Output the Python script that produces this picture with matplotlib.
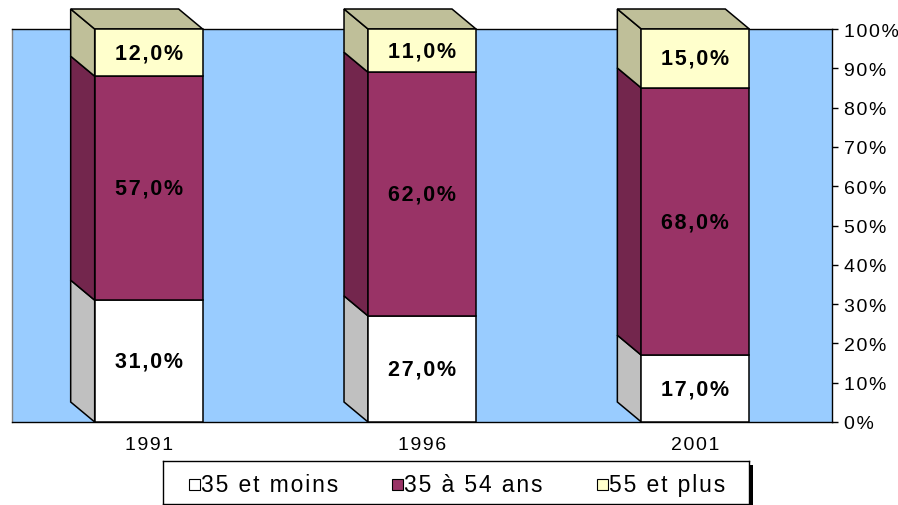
import matplotlib
matplotlib.use('Agg')
import matplotlib.pyplot as plt
from matplotlib.patches import Polygon, Rectangle

plt.rcParams['font.family'] = ['Liberation Sans', 'DejaVu Sans']

years = ['1991', '1996', '2001']
moins_35 = [31, 27, 17]
de_35_a_54 = [57, 62, 68]
plus_55 = [12, 11, 15]
series_names = ['35 et moins', '35 à 54 ans', '55 et plus']
y_ticks = [0, 10, 20, 30, 40, 50, 60, 70, 80, 90, 100]

front_colors = ['white', '#993366', '#FFFFCC']
side_colors = ['#C0C0C0', '#73264D', '#BFBF99']


def spaced(s, sep='\u200a'):
    # excel draws these labels with a bit of extra letter spacing
    return sep.join(s)


W, H = 898, 506
fig = plt.figure(figsize=(W / 100, H / 100), dpi=100)
ax_left, ax_bottom, ax_w, ax_h = 12, 83, 820, 393
ax = fig.add_axes([ax_left / W, ax_bottom / H, ax_w / W, ax_h / H])
ax.set_facecolor('#99CCFF')
ax.set_xlim(0, len(years))
ax.set_ylim(0, 100)

# depth of the 3d effect, in pixels, turned into data units
depth_x = -24 * len(years) / ax_w
depth_y = 20 * 100 / ax_h
bar_w = 0.395

series = [moins_35, de_35_a_54, plus_55]
centers = [i + 0.5 for i in range(len(years))]

bottoms = [0] * len(years)
for values, fc, sc in zip(series, front_colors, side_colors):
    ax.bar(centers, values, bottom=bottoms, width=bar_w, color=fc,
           edgecolor='black', linewidth=1.1, zorder=4, clip_on=False)
    for c, b, v in zip(centers, bottoms, values):
        x0 = c - bar_w / 2
        side = Polygon([(x0, b), (x0, b + v), (x0 + depth_x, b + v + depth_y),
                        (x0 + depth_x, b + depth_y)], closed=True,
                       facecolor=sc, edgecolor='black', linewidth=1.1,
                       zorder=3, clip_on=False)
        ax.add_patch(side)
        label = f'{v:.1f}%'.replace('.', ',')
        ax.text(c, b + v / 2, spaced(label), ha='center', va='center',
                fontsize=15.5, fontweight='bold', zorder=5)
    bottoms = [b + v for b, v in zip(bottoms, values)]

# top faces
for c, b in zip(centers, bottoms):
    x0, x1 = c - bar_w / 2, c + bar_w / 2
    top = Polygon([(x0, b), (x1, b), (x1 + depth_x, b + depth_y),
                   (x0 + depth_x, b + depth_y)], closed=True,
                  facecolor=side_colors[-1], edgecolor='black', linewidth=1.1,
                  zorder=3, clip_on=False)
    ax.add_patch(top)

ax.yaxis.tick_right()
ax.set_yticks(y_ticks, [spaced(f'{t}%') for t in y_ticks])
ax.tick_params(axis='y', direction='out', length=4.5, width=1, pad=4, labelsize=14)
ax.set_xticks(centers, [spaced(y) for y in years])
ax.tick_params(axis='x', length=0, pad=10, labelsize=14)

for name, sp in ax.spines.items():
    sp.set_color('black')
    sp.set_linewidth(1)
    sp.set_zorder(2.5)
ax.spines['left'].set_color('#7F7F7F')

# legend box drawn by hand to match the excel layout
lx, ly, lw, lh = 163, 1, 586, 43
shadow = Rectangle(((lx + 4) / W, (ly - 4) / H), lw / W, lh / H,
                   transform=fig.transFigure, facecolor='black', zorder=-1)
fig.patches.append(shadow)
lax = fig.add_axes([lx / W, ly / H, lw / W, lh / H])
lax.set_xlim(0, lw)
lax.set_ylim(0, lh)
lax.set_xticks([])
lax.set_yticks([])
for sp in lax.spines.values():
    sp.set_linewidth(1)

marker_x = [26, 229, 434]
for mx, name, fc in zip(marker_x, series_names, front_colors):
    lax.add_patch(Rectangle((mx, 14), 11, 11, facecolor=fc,
                            edgecolor='black', linewidth=0.8))
    lax.text(mx + 12, 19.5, spaced(name), ha='left', va='center', fontsize=16.5)

fig.savefig('out.png', dpi=100)
